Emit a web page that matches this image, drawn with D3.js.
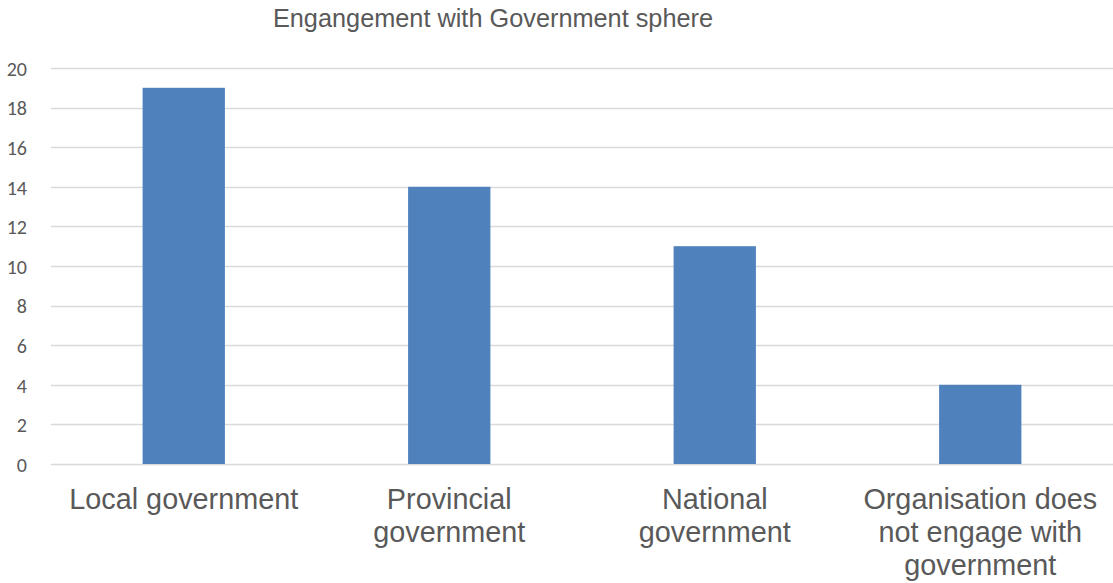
<!DOCTYPE html>
<html>
<head>
<meta charset="utf-8">
<script src="https://cdn.jsdelivr.net/npm/d3@7"></script>
<style>
  html, body { margin: 0; padding: 0; background: #fff; }
  svg { display: block; }
</style>
</head>
<body>
<svg id="chart" width="1113" height="583"></svg>
<script>
const categories = [
  ["Local government"],
  ["Provincial", "government"],
  ["National", "government"],
  ["Organisation does", "not engage with", "government"]
];
const values = [19, 14, 11, 4];
const yTicks = [0, 2, 4, 6, 8, 10, 12, 14, 16, 18, 20];
const title = "Engangement with Government sphere";

const svg = d3.select("#chart");
const W = 1113, H = 583;
const m = { left: 51, right: 0, top: 68, bottom: 119 };

const x = d3.scaleBand()
  .domain(d3.range(values.length))
  .range([m.left, W - m.right])
  .paddingInner(0.69)
  .paddingOuter(0.345);

const y = d3.scaleLinear().domain([0, 20]).range([H - m.bottom, m.top]);

// horizontal gridlines
svg.append("g")
  .selectAll("line")
  .data(yTicks)
  .join("line")
  .attr("x1", m.left).attr("x2", W - m.right)
  .attr("y1", d => Math.round(y(d)) + 0.5).attr("y2", d => Math.round(y(d)) + 0.5)
  .attr("stroke", "#d9d9d9").attr("stroke-width", 1.3);

// value axis labels
const yAxis = d3.axisLeft(y).tickValues(yTicks).tickSize(0).tickPadding(0);
const gy = svg.append("g").attr("transform", `translate(27,0)`).call(yAxis);
gy.select(".domain").remove();
gy.selectAll("text")
  .attr("fill", "#595959")
  .attr("dy", "0.36em")
  .style("font-family", "Carlito, Calibri, Lato, sans-serif")
  .style("font-size", "20px");

// bars
svg.append("g")
  .selectAll("rect")
  .data(values)
  .join("rect")
  .attr("x", (d, i) => x(i))
  .attr("width", x.bandwidth())
  .attr("y", d => y(d))
  .attr("height", d => y(0) - y(d))
  .attr("fill", "#4f81bd");

// category labels (wrapped)
const lab = svg.append("g")
  .selectAll("text")
  .data(categories)
  .join("text")
  .attr("x", (d, i) => x(i) + x.bandwidth() / 2)
  .attr("y", 509)
  .attr("text-anchor", "middle")
  .attr("fill", "#595959")
  .style("font-family", "'Liberation Sans', Arial, sans-serif")
  .style("font-size", "28.8px");
lab.selectAll("tspan")
  .data(d => d)
  .join("tspan")
  .attr("x", function() { return this.parentNode.getAttribute("x"); })
  .attr("dy", (d, i) => i === 0 ? 0 : 33)
  .text(d => d);

// title
svg.append("text")
  .attr("x", 493)
  .attr("y", 27)
  .attr("text-anchor", "middle")
  .attr("fill", "#595959")
  .style("font-family", "'Liberation Sans', Arial, sans-serif")
  .style("font-size", "25.3px")
  .text(title);
</script>
</body>
</html>
